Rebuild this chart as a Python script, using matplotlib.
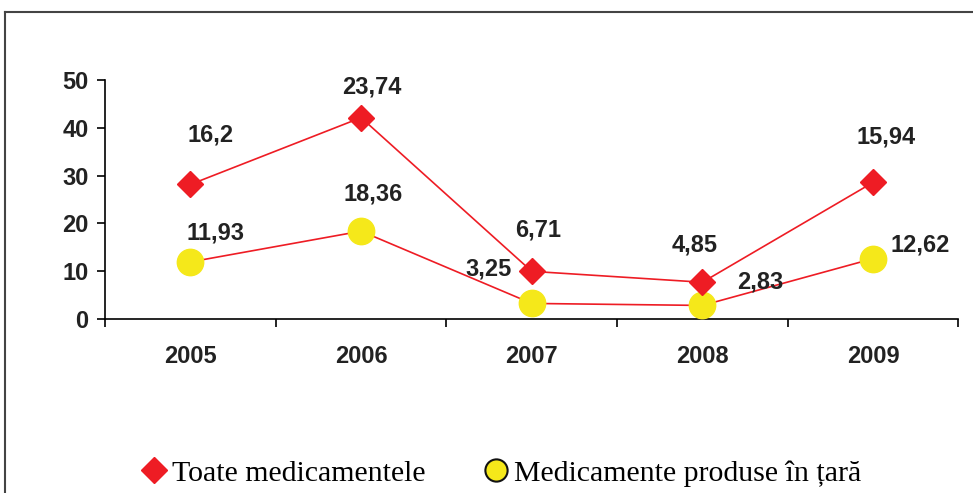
import matplotlib.pyplot as plt
from matplotlib.lines import Line2D

# data
years = ['2005', '2006', '2007', '2008', '2009']
produse = [11.93, 18.36, 3.25, 2.83, 12.62]
toate = [16.2, 23.74, 6.71, 4.85, 15.94]
# the chart is stacked: the red line sits on top of the yellow one
toate_cum = [a + b for a, b in zip(produse, toate)]

def fmt(v):
    s = ('%.2f' % v).rstrip('0').rstrip('.')
    return s.replace('.', ',')

# label offsets in pixels (dx, dy)
off_toate = [(20, 49), (11, 31), (6, 41), (-8, 37), (13, 45)]
off_produse = [(25, 29), (12, 37), (-43, 34), (58, 23), (47, 14)]

red = '#ee1c24'
yellow = '#f5e81a'
sans, fsize = 'Liberation Sans', 17

fig = plt.figure(figsize=(9.73, 4.93), dpi=100)
ax = fig.add_axes([0.108, 0.353, 0.877, 0.485])

x = list(range(1, len(years) + 1))
ax.plot(x, produse, color=red, lw=1.2, marker='o', ms=19,
        mfc=yellow, mec=yellow, zorder=3)
ax.plot(x, toate_cum, color=red, lw=1.2, marker='D', ms=13.5,
        mfc=red, mec=red, zorder=4)

lab = dict(fontsize=fsize, fontweight='bold', family=sans,
           color='#222222', ha='center', va='center',
           textcoords='offset pixels')
for i in range(len(years)):
    ax.annotate(fmt(toate[i]), (x[i], toate_cum[i]), xytext=off_toate[i], **lab)
    ax.annotate(fmt(produse[i]), (x[i], produse[i]), xytext=off_produse[i], **lab)

ax.set_xlim(0.5, len(years) + 0.5)
ax.set_ylim(0, 50)
ax.set_yticks(range(0, 51, 10))
ax.set_xticks([i + 0.5 for i in range(len(years) + 1)])
ax.set_xticklabels([])
ax.set_xticks(x, minor=True)
ax.set_xticklabels(years, minor=True)
ax.tick_params(axis='x', which='minor', length=0, pad=19)
ax.tick_params(axis='x', which='major', direction='out', length=6, width=1.2)
ax.tick_params(axis='y', direction='out', length=6, width=1.2, pad=6)
for t in ax.get_xticklabels(minor=True) + ax.get_yticklabels():
    t.set_fontsize(fsize)
    t.set_fontweight('bold')
    t.set_family(sans)
    t.set_color('#222222')
ax.spines['top'].set_visible(False)
ax.spines['right'].set_visible(False)
ax.spines['left'].set_linewidth(1.2)
ax.spines['bottom'].set_linewidth(1.2)
ax.patch.set_visible(False)

# outer frame (top and left only)
fig.add_artist(Line2D([5 / 973, 5 / 973], [0, 1 - 12 / 493],
                      transform=fig.transFigure, color='#444444', lw=1.5))
fig.add_artist(Line2D([5 / 973, 1], [1 - 12 / 493, 1 - 12 / 493],
                      transform=fig.transFigure, color='#444444', lw=1.5))

handles = [Line2D([], [], ls='none', marker='D', ms=13, mfc=red, mec=red),
           Line2D([], [], ls='none', marker='o', ms=16, mfc=yellow, mec='#111111', mew=1.5)]
fig.legend(handles, ['Toate medicamentele', 'Medicamente produse în țară'],
           loc='center', bbox_to_anchor=(0.514, 0.04), ncol=2, frameon=False,
           handlelength=1.0, handletextpad=0.1, columnspacing=1.87,
           prop={'family': 'Liberation Serif', 'size': 21.5})

fig.savefig('out.png', dpi=100)
